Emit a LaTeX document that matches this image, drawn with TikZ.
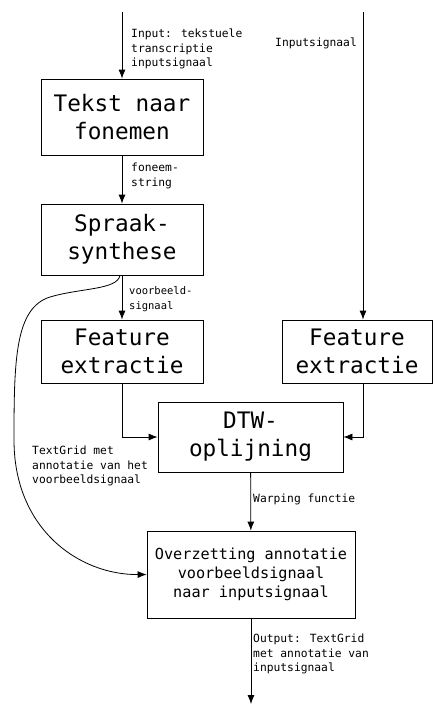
\documentclass[tikz,border=0pt]{standalone}
\usepackage{fontspec}
\setmainfont{DejaVu Sans Mono}
\usetikzlibrary{arrows.meta}
\begin{document}
\begin{tikzpicture}[x=1pt,y=-1pt,
  box/.style={draw,line width=0.8pt,inner sep=0pt,align=center,font=\fontsize{22.7}{28}\selectfont},
  bigbox/.style={draw,line width=0.8pt,inner sep=0pt,align=center,font=\fontsize{15.2}{19}\selectfont},
  lbl/.style={inner sep=0pt,anchor=west,align=left,font=\fontsize{11.3}{14.5}\selectfont},
  arr/.style={line width=0.8pt,-{Latex[length=9pt,width=7pt]}}]
\useasboundingbox (0,0) rectangle (433,704);
\node[box,minimum width=162pt,minimum height=76pt] (b1) at (122,117) {Tekst naar\\fonemen};
\node[box,minimum width=162pt,minimum height=71pt] (b2) at (122,239.5) {Spraak-\\synthese};
\node[box,minimum width=162pt,minimum height=63pt] (b3) at (122,351.5) {Feature\\extractie};
\node[box,minimum width=150pt,minimum height=63pt] (b4) at (357,351.5) {Feature\\extractie};
\node[box,minimum width=185pt,minimum height=70pt] (dtw) at (250.5,437) {DTW-\\oplijning};
\node[bigbox,minimum width=208pt,minimum height=87pt] (b5) at (251,574.5) {Overzetting annotatie\\voorbeeldsignaal\\naar inputsignaal};
\coordinate (in1) at (122,12);
\coordinate (in2) at (363,12);
\coordinate (rx) at (363,0);
\coordinate (out) at (251,704);
\coordinate (cs) at (120,275.5);
\draw[arr] (in1) -- (b1);
\draw[arr] (in2) -- (b4.north -| rx);
\draw[arr] (b1) -- (b2);
\draw[arr] (b2) -- (b3);
\draw[arr] (b3.south) |- (dtw.west);
\draw[arr] (b4.south -| rx) |- (dtw.east);
\draw[arr] (dtw) -- (b5);
\draw[arr] (b5) -- (out);
\draw[arr] (cs) .. controls (117,290) and (80,288) .. (50,297) .. controls (15,308) and (14,360) .. (14,440) .. controls (14,530) and (80,575) .. (b5.west);
\node[lbl] (l1) at (131,49) {Input: tekstuele\\transcriptie\\inputsignaal};
\node[lbl] (l2) at (275,43) {Inputsignaal};
\node[lbl] (l3) at (131,176) {foneem-\\string};
\node[lbl,font=\fontsize{10.5}{15}\selectfont] (l4) at (129,299.5) {voorbeeld-\\signaal};
\node[lbl] (l5) at (32,466) {TextGrid met\\annotatie van het\\voorbeeldsignaal};
\node[lbl] (l6) at (253,499) {Warping functie};
\node[lbl] (l7) at (253,654) {Output: TextGrid\\met annotatie van\\inputsignaal};
\end{tikzpicture}
\end{document}
